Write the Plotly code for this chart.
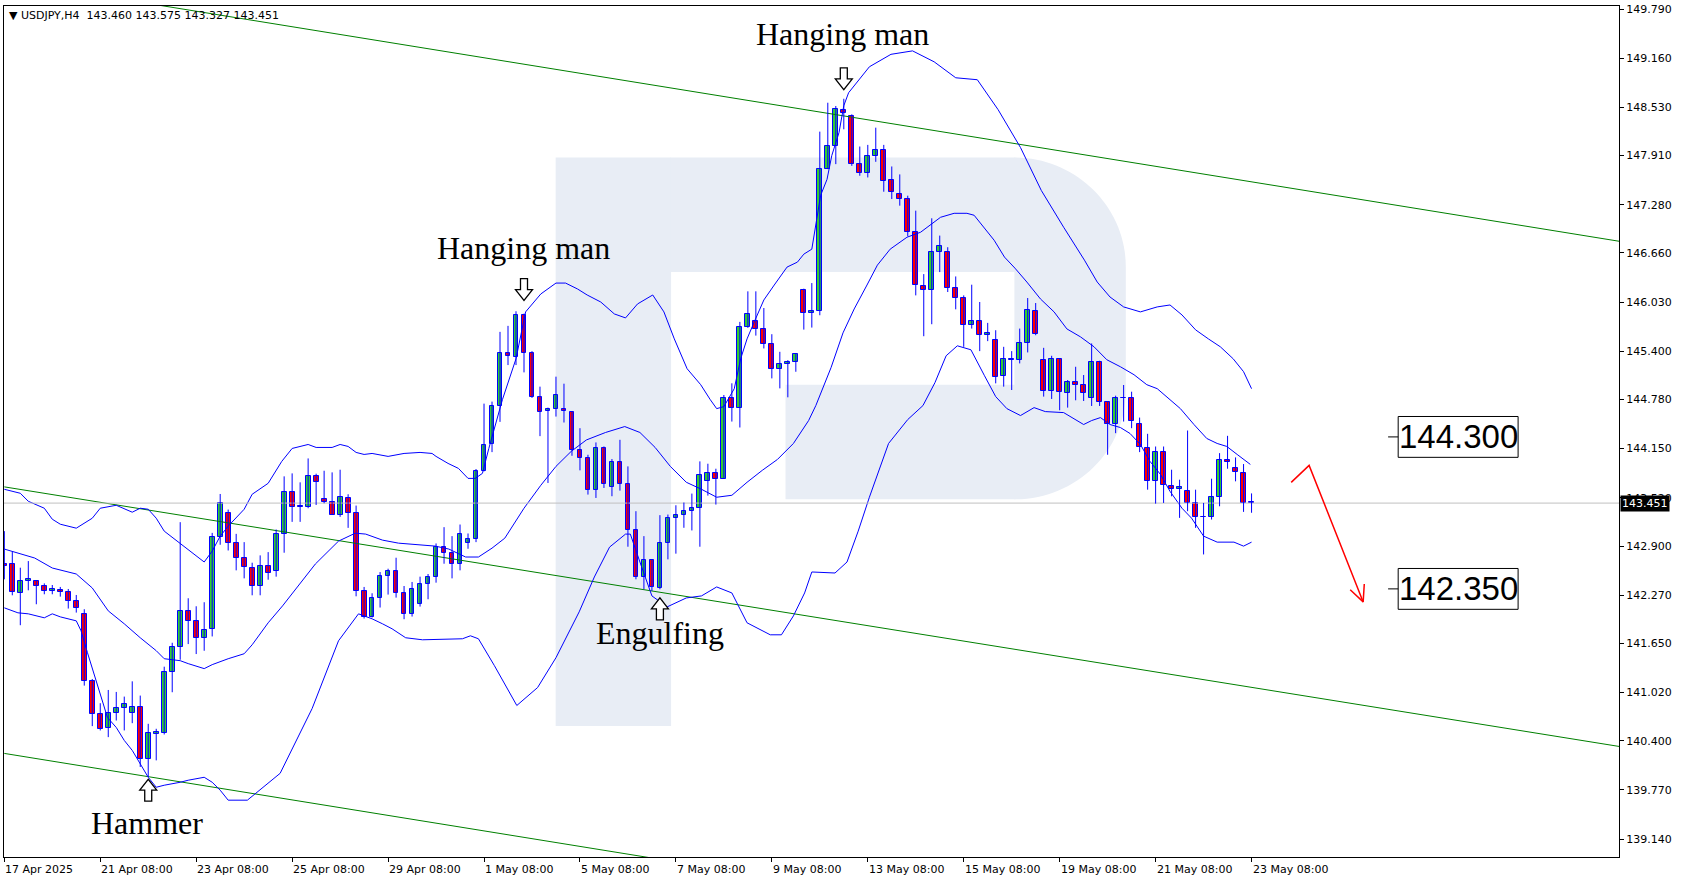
import plotly.graph_objects as go

# ---------------- data ----------------
OPEN = [142.664, 142.664, 142.302, 142.447, 142.456, 142.383, 142.319, 142.341, 142.306, 142.191,
        142.025, 141.173, 140.747, 140.559, 140.759, 140.823, 140.759, 140.836, 140.171, 140.491,
        140.499, 141.284, 141.603, 142.063, 141.936, 141.718, 141.833, 143.010, 143.329, 142.933,
        142.741, 142.613, 142.383, 142.639, 142.575, 143.048, 143.598, 143.406, 143.406, 143.802,
        143.508, 143.470, 143.304, 143.521, 143.329, 142.319, 141.991, 142.234, 142.511, 142.575,
        142.294, 142.025, 142.153, 142.409, 142.498, 142.890, 142.805, 142.664, 142.933, 142.984,
        143.866, 144.211, 144.697, 145.375, 145.328, 145.861, 145.371, 144.813, 144.634, 144.659,
        144.664, 144.621, 144.135, 144.033, 143.624, 144.156, 143.662, 143.982, 143.700, 143.112,
        142.503, 142.716, 142.358, 142.933, 143.266, 143.304, 143.347, 143.394, 143.730, 143.841,
        143.764, 144.800, 144.676, 145.708, 145.784, 145.682, 145.490, 145.170, 145.234, 145.260,
        146.180, 145.886, 145.912, 147.740, 148.034, 148.494, 148.418, 147.804, 147.689, 147.906,
        147.983, 147.600, 147.420, 147.357, 146.935, 146.232, 146.180, 146.679, 146.679, 146.206,
        146.078, 145.733, 145.784, 145.605, 145.541, 145.081, 145.285, 145.285, 145.503, 145.912,
        145.285, 144.889, 145.298, 144.868, 145.009, 144.966, 144.800, 145.260, 144.744, 144.463,
        144.800, 144.795, 144.463, 144.156, 143.730, 144.105, 143.670, 143.636, 143.611, 143.457,
        143.274, 143.270, 143.530, 144.007, 143.905, 143.841, 143.460]
HIGH = [143.091, 142.826, 142.622, 142.707, 142.464, 142.421, 142.400, 142.375, 142.349, 142.272,
        142.089, 141.194, 140.883, 141.053, 141.028, 140.968, 141.164, 140.981, 140.619, 140.555,
        141.352, 141.659, 143.206, 142.230, 142.127, 142.179, 143.069, 143.568, 143.368, 143.056,
        142.950, 142.686, 142.780, 142.822, 143.112, 143.794, 143.832, 143.717, 144.024, 143.828,
        143.866, 143.845, 143.879, 143.564, 143.419, 142.375, 142.294, 142.566, 142.609, 142.750,
        142.387, 142.439, 142.507, 142.541, 142.933, 143.142, 143.027, 143.176, 143.061, 143.888,
        144.727, 144.753, 145.648, 145.725, 145.912, 145.882, 145.401, 144.945, 144.676, 145.073,
        144.983, 144.621, 144.412, 144.071, 144.229, 144.178, 144.016, 144.263, 143.922, 143.347,
        143.027, 142.729, 143.296, 143.304, 143.423, 143.458, 143.573, 143.986, 143.956, 143.892,
        144.838, 144.988, 145.776, 146.168, 146.168, 145.954, 145.618, 145.392, 145.285, 145.371,
        146.202, 146.274, 148.217, 148.588, 148.546, 148.639, 148.439, 148.026, 148.047, 148.268,
        148.047, 147.770, 147.668, 147.395, 147.203, 146.389, 147.105, 146.883, 146.734, 146.359,
        146.116, 146.253, 146.031, 145.763, 145.669, 145.456, 145.401, 145.690, 146.082, 146.018,
        145.443, 145.341, 145.307, 145.030, 145.200, 145.094, 145.499, 145.277, 144.753, 144.829,
        144.966, 144.880, 144.548, 144.340, 144.177, 144.177, 143.879, 143.751, 144.382, 143.623,
        143.453, 143.764, 144.092, 144.314, 144.037, 143.952, 143.575]
LOW = [142.473, 142.268, 141.884, 142.332, 142.153, 142.281, 142.281, 142.251, 142.098, 142.046,
       141.109, 140.589, 140.534, 140.448, 140.661, 140.534, 140.627, 140.065, 139.937, 140.150,
       140.482, 141.024, 141.441, 141.642, 141.514, 141.556, 141.740, 142.916, 142.843, 142.588,
       142.485, 142.268, 142.268, 142.468, 142.507, 142.814, 143.210, 143.210, 143.385, 143.427,
       143.449, 143.304, 143.274, 143.133, 142.255, 141.970, 141.983, 142.111, 142.277, 142.238,
       141.961, 141.995, 142.123, 142.217, 142.430, 142.673, 142.485, 142.588, 142.865, 142.950,
       143.858, 144.105, 144.493, 145.222, 145.222, 145.128, 144.800, 144.310, 143.709, 144.561,
       144.485, 144.058, 143.871, 143.560, 143.517, 143.645, 143.539, 143.611, 142.891, 142.473,
       142.345, 142.324, 142.345, 142.729, 142.802, 143.134, 143.100, 142.891, 143.547, 143.432,
       143.764, 144.497, 144.421, 145.699, 145.600, 145.435, 145.051, 144.923, 144.808, 145.136,
       145.677, 145.703, 145.861, 147.736, 147.800, 148.247, 147.778, 147.651, 147.629, 147.830,
       147.446, 147.352, 147.267, 146.875, 146.116, 145.592, 145.746, 146.415, 146.159, 145.937,
       145.456, 145.690, 145.401, 145.529, 144.987, 144.945, 144.902, 145.243, 145.384, 145.605,
       144.817, 144.787, 144.642, 144.676, 144.770, 144.761, 144.697, 144.697, 144.071, 144.348,
       144.497, 144.412, 144.105, 143.623, 143.444, 143.453, 143.538, 143.261, 143.347, 143.133,
       142.792, 143.240, 143.410, 143.892, 143.730, 143.338, 143.327]
CLOSE = [142.650, 142.311, 142.447, 142.473, 142.387, 142.323, 142.345, 142.306, 142.196, 142.102,
         141.173, 140.747, 140.555, 140.759, 140.823, 140.875, 140.836, 140.171, 140.504, 140.516,
         141.284, 141.603, 142.063, 141.936, 141.718, 141.829, 143.010, 143.457, 142.933, 142.741,
         142.626, 142.383, 142.639, 142.549, 143.048, 143.598, 143.406, 143.402, 143.802, 143.726,
         143.470, 143.304, 143.534, 143.329, 142.319, 141.991, 142.234, 142.511, 142.575, 142.294,
         142.025, 142.345, 142.409, 142.498, 142.890, 142.805, 142.664, 143.048, 142.984, 143.866,
         144.199, 144.697, 145.379, 145.341, 145.861, 145.380, 144.813, 144.621, 144.664, 144.838,
         144.634, 144.135, 144.029, 143.624, 144.156, 143.700, 143.982, 143.700, 143.112, 142.503,
         142.716, 142.375, 142.933, 143.266, 143.304, 143.347, 143.394, 143.816, 143.841, 143.764,
         144.800, 144.676, 145.708, 145.882, 145.682, 145.490, 145.170, 145.234, 145.260, 145.362,
         145.886, 145.916, 147.740, 148.034, 148.511, 148.460, 147.804, 147.689, 147.906, 147.983,
         147.587, 147.437, 147.357, 146.935, 146.244, 146.180, 146.679, 146.756, 146.206, 146.078,
         145.733, 145.784, 145.605, 145.635, 145.072, 145.298, 145.298, 145.503, 145.925, 145.618,
         144.889, 145.298, 144.876, 145.009, 144.966, 144.868, 145.260, 144.753, 144.463, 144.795,
         144.795, 144.506, 144.165, 143.730, 144.105, 143.679, 143.636, 143.658, 143.453, 143.274,
         143.270, 143.530, 144.007, 143.977, 143.854, 143.457, 143.451]
BAR_INDEX = list(range(len(OPEN)))

X_TICK_INDEX = [0, 12, 24, 36, 48, 60, 72, 84, 96, 108, 120, 132, 144, 156]
X_TICK_LABELS = ["17 Apr 2025", "21 Apr 08:00", "23 Apr 08:00", "25 Apr 08:00", "29 Apr 08:00",
                 "1 May 08:00", "5 May 08:00", "7 May 08:00", "9 May 08:00", "13 May 08:00",
                 "15 May 08:00", "19 May 08:00", "21 May 08:00", "23 May 08:00"]
Y_TICKS = [149.790, 149.160, 148.530, 147.910, 147.280, 146.660, 146.030, 145.400, 144.780,
           144.150, 143.520, 142.900, 142.270, 141.650, 141.020, 140.400, 139.770, 139.140]

# Bollinger bands, sampled along the bar index
UPPER_X = [0, 2, 3, 5, 6, 7, 9, 10, 11, 12, 14, 16, 17, 18, 19, 20, 22, 24, 25, 26, 27, 28, 29, 30,
           31, 33, 34.7, 36, 38, 39, 41, 42, 43, 44, 45, 46, 48, 50, 52, 53.5, 54, 55.5, 56.8, 58,
           58.9, 59.8, 60.6, 61.4, 62.3, 64, 65.2, 67.1, 69, 70.2, 71.7, 72.9, 74.6, 76.3, 77.7,
           79.2, 81.1, 82.5, 83.8, 85.4, 87.1, 88.3, 89.1, 90, 91.3, 92.1, 92.9, 93.8, 95, 96.3,
           97.9, 99.2, 100, 101, 101.5, 102.1, 102.9, 103.5, 104.4, 105, 105.6, 108.2, 110.9,
           113.6, 116.3, 119, 121.7, 124.3, 127.1, 129.7, 132.5, 135.1, 136.7, 138.3, 140, 142.1,
           144.2, 145.8, 147.3, 149, 150.6, 152.1, 153.7, 155, 156]
UPPER_Y = [143.628, 143.577, 143.474, 143.385, 143.244, 143.180, 143.129, 143.193, 143.257, 143.385,
           143.423, 143.334, 143.385, 143.372, 143.257, 143.091, 142.937, 142.771, 142.695, 142.835,
           143.027, 143.155, 143.257, 143.372, 143.564, 143.705, 143.986, 144.152, 144.203, 144.165,
           144.165, 144.203, 144.178, 144.101, 144.075, 144.088, 144.050, 144.088, 144.101, 144.088,
           144.050, 143.960, 143.896, 143.768, 143.768, 143.832, 144.152, 144.433, 144.778, 145.303,
           145.904, 146.134, 146.274, 146.274, 146.198, 146.121, 146.031, 145.878, 145.827, 146.006,
           146.121, 145.904, 145.558, 145.175, 144.970, 144.778, 144.663, 144.689, 144.919, 145.303,
           145.558, 145.776, 146.057, 146.249, 146.479, 146.543, 146.645, 146.709, 147.016, 147.399,
           147.604, 147.911, 148.205, 148.550, 148.716, 149.049, 149.209, 149.253, 149.113, 148.908,
           148.883, 148.499, 148.013, 147.463, 146.990, 146.568, 146.287, 146.095, 145.968, 145.904,
           145.968, 145.993, 145.865, 145.674, 145.558, 145.456, 145.303, 145.137, 144.919]
MIDDLE_X = [0, 1.7, 3.8, 6, 9, 11, 13, 15, 17, 19, 20, 22, 23, 25, 26, 28, 30, 31, 33, 34.8, 36.8,
            38.9, 41.8, 43.9, 45.2, 47.3, 49.3, 52.3, 53.9, 55.6, 57.7, 59.3, 61, 62.6, 65, 67.1,
            69, 70.9, 72.8, 75.2, 77.6, 79.5, 81.4, 83.3, 85.3, 87.2, 89.1, 91, 92.9, 94.8, 96.7,
            98.7, 100.6, 101.5, 102.5, 103.4, 104.9, 106.3, 107.9, 109.2, 110.8, 112.9, 114.6,
            115.8, 117.1, 118.8, 120.4, 121.3, 122.5, 123.8, 125.1, 126.4, 127.9, 129.6, 131.3,
            132.9, 134.6, 136.3, 137.9, 139.6, 141.3, 142.9, 144.2, 145.4, 147.1, 148.8, 150.4,
            151.7, 152.9, 154.2, 155.85]
MIDDLE_Y = [142.861, 142.810, 142.746, 142.618, 142.541, 142.362, 142.068, 141.902, 141.723, 141.557,
            141.454, 141.429, 141.391, 141.327, 141.378, 141.454, 141.518, 141.633, 141.915, 142.132,
            142.401, 142.669, 142.963, 143.065, 143.053, 142.976, 142.937, 142.912, 142.899, 142.861,
            142.759, 142.759, 142.873, 143.001, 143.385, 143.679, 143.922, 144.114, 144.261, 144.357,
            144.433, 144.357, 144.165, 143.922, 143.718, 143.628, 143.526, 143.551, 143.718, 143.871,
            144.011, 144.216, 144.510, 144.702, 144.945, 145.188, 145.635, 145.942, 146.249, 146.504,
            146.709, 146.862, 146.926, 147.016, 147.118, 147.169, 147.169, 147.144, 146.990, 146.824,
            146.607, 146.466, 146.287, 146.070, 145.904, 145.686, 145.584, 145.456, 145.290, 145.200,
            145.098, 144.970, 144.919, 144.817, 144.663, 144.459, 144.280, 144.216, 144.178, 144.075,
            143.947]
LOWER_X = [0, 1.7, 3, 5, 6, 7, 9, 9.6, 10.4, 11.5, 12.1, 12.9, 14, 15, 16, 17, 18, 19, 20, 22, 23,
           25, 26, 27, 28, 30.4, 34.5, 38.5, 41.8, 44.3, 46, 47.3, 48.5, 50.2, 52.3, 57.3, 58.3,
           59.3, 61.3, 64.1, 66.7, 69, 71.9, 73.8, 75.7, 77.7, 78.3, 79.5, 81, 82.9, 85.3, 87.2,
           89.1, 91, 92.9, 95.8, 97.2, 98.7, 100.1, 101, 103.9, 105.4, 106.8, 108.2, 109.2, 110.6,
           113, 114.9, 116.4, 117.8, 119.2, 120.9, 122.6, 124, 125.4, 127.1, 128.8, 130.2, 132.5,
           133.8, 135, 136, 137.1, 138.3, 139.6, 140.8, 142.1, 143.3, 144.6, 145.8, 147.3, 148.5,
           150, 151.7, 153.8, 155, 156]
LOWER_Y = [142.107, 142.043, 142.030, 141.979, 142.030, 141.991, 141.940, 141.812, 141.531, 141.173,
           140.956, 140.700, 140.572, 140.406, 140.278, 140.112, 139.933, 139.805, 139.831, 139.869,
           139.895, 139.933, 139.869, 139.767, 139.639, 139.639, 139.984, 140.815, 141.684, 142.030,
           141.966, 141.902, 141.838, 141.723, 141.697, 141.710, 141.748, 141.710, 141.365, 140.854,
           141.084, 141.467, 142.055, 142.503, 142.886, 143.053, 143.053, 142.695, 142.260, 142.119,
           142.234, 142.260, 142.375, 142.298, 141.915, 141.761, 141.761, 142.004, 142.298, 142.567,
           142.554, 142.695, 143.091, 143.526, 143.820, 144.216, 144.523, 144.702, 144.996, 145.341,
           145.469, 145.418, 145.085, 144.817, 144.663, 144.574, 144.676, 144.625, 144.612, 144.535,
           144.459, 144.510, 144.548, 144.459, 144.420, 144.344, 144.203, 143.986, 143.820, 143.602,
           143.385, 143.257, 143.027, 142.950, 142.950, 142.899, 142.950]

# trend channel (green), endpoints
CHANNEL_X = [0, 202]
CHANNEL_UPPER = [150.160, 146.810]
CHANNEL_MIDDLE = [143.659, 140.328]
CHANNEL_LOWER = [140.239, 136.892]

LEVELS = [144.300, 142.350]
FORECAST_X = [160.96, 163.2, 169.96]
FORECAST_Y = [143.717, 143.935, 142.183]
FORECAST_HEAD_X = [170.1, 169.96, 168.34]
FORECAST_HEAD_Y = [142.413, 142.183, 142.339]

# candlestick patterns: label, text position (bar, price), arrow direction, arrow position (bar, price)
PATTERNS = [
    ("Hanging man", 104.8, 149.470, "down", 105, 148.895),
    ("Hanging man", 64.97, 146.722, "down", 65, 146.191),
    ("Engulfing", 81.96, 141.785, "up", 82, 142.094),
    ("Hammer", 17.85, 139.345, "up", 18, 139.767),
]

X_RANGE = [-0.04, 201.96]
Y_RANGE = [138.910, 149.829]

# ---------------- figure ----------------
W, H = 1683, 882
ML, MR, MT, MB = 3, 64, 3, 25
PW, PH = W - ML - MR, H - MT - MB

BLUE = "#0000FF"
UP = "#32CD32"
DOWN = "#FF0000"
WM = "#E8EDF5"


def px_to_paper(px, py):
    return (px - ML) / PW, 1 - (py - MT) / PH


def data_to_paper(x, y):
    return ((x - X_RANGE[0]) / (X_RANGE[1] - X_RANGE[0]),
            (y - Y_RANGE[0]) / (Y_RANGE[1] - Y_RANGE[0]))


fig = go.Figure()

# green channel
for ys in (CHANNEL_UPPER, CHANNEL_MIDDLE, CHANNEL_LOWER):
    fig.add_trace(go.Scatter(x=CHANNEL_X, y=ys, mode="lines",
                             line=dict(color="#008000", width=1), hoverinfo="skip"))

# bollinger bands
for xs, ys in ((UPPER_X, UPPER_Y), (MIDDLE_X, MIDDLE_Y), (LOWER_X, LOWER_Y)):
    fig.add_trace(go.Scatter(x=xs, y=ys, mode="lines",
                             line=dict(color=BLUE, width=1), hoverinfo="skip"))

# current price line
fig.add_trace(go.Scatter(x=X_RANGE, y=[CLOSE[-1], CLOSE[-1]], mode="lines",
                         line=dict(color="#C0C0C0", width=1), hoverinfo="skip"))

# wicks
wx, wy = [], []
for i, lo, hi in zip(BAR_INDEX, LOW, HIGH):
    wx += [i, i, None]
    wy += [lo, hi, None]
fig.add_trace(go.Scatter(x=wx, y=wy, mode="lines", line=dict(color=BLUE, width=1),
                         hoverinfo="skip"))

# bodies
base = [min(o, c) for o, c in zip(OPEN, CLOSE)]
height = [max(abs(c - o), 0.006) for o, c in zip(OPEN, CLOSE)]
colors = [UP if c > o else DOWN for o, c in zip(OPEN, CLOSE)]
fig.add_trace(go.Bar(x=BAR_INDEX, y=height, base=base, width=0.6,
                     marker=dict(color=colors, line=dict(color=BLUE, width=1)),
                     hoverinfo="skip"))

# forecast arrow
fig.add_trace(go.Scatter(x=FORECAST_X, y=FORECAST_Y, mode="lines",
                         line=dict(color="#FF0000", width=1.5), hoverinfo="skip"))
fig.add_trace(go.Scatter(x=FORECAST_HEAD_X, y=FORECAST_HEAD_Y, mode="lines",
                         line=dict(color="#FF0000", width=1.5), hoverinfo="skip"))

shapes = []


# watermark "R"
def rect_px(x0, y0, x1, y1):
    a = px_to_paper(x0, y0)
    b = px_to_paper(x1, y1)
    return dict(type="rect", xref="paper", yref="paper", x0=a[0], y0=b[1], x1=b[0], y1=a[1],
                fillcolor=WM, line=dict(width=0), layer="below")


def path_px(points_cmds):
    s = ""
    for cmd, pts in points_cmds:
        s += cmd
        s += " ".join("%.5f,%.5f" % px_to_paper(*p) for p in pts) + " "
    return dict(type="path", xref="paper", yref="paper", path=s + "Z",
                fillcolor=WM, line=dict(width=0), layer="below")


shapes.append(rect_px(555, 155, 670.5, 725.5))
shapes.append(rect_px(670, 155, 1015, 270))
shapes.append(rect_px(785, 383, 1015, 498))
shapes.append(path_px([
    ("M", [(1014, 155)]),
    ("C", [(1075, 155), (1125.5, 204), (1125.5, 265)]),
    ("L", [(1125.5, 389)]),
    ("C", [(1125.5, 450), (1075, 498), (1014, 498)]),
]))
shapes.append(path_px([
    ("M", [(785, 610.7)]),
    ("L", [(1014.5, 610.7), (1070, 725.5), (785, 725.5)]),
]))

# level boxes
half = 20.5 / (PH / (Y_RANGE[1] - Y_RANGE[0]))
for lv in LEVELS:
    shapes.append(dict(type="rect", xref="x", yref="y", x0=174.34, x1=189.34,
                       y0=lv - half, y1=lv + half, fillcolor="white",
                       line=dict(color="black", width=1)))
    shapes.append(dict(type="line", xref="x", yref="y", x0=173.08, x1=174.34,
                       y0=lv, y1=lv, line=dict(color="black", width=1)))

# hollow pattern arrows (outline drawn in pixels around the anchor)
ARROW_OUTLINE = [(-3.5, -11), (3.5, -11), (3.5, 0), (8.5, 0), (0, 11), (-8.5, 0), (-3.5, 0)]
for label, tx, ty, direction, ax, ay in PATTERNS:
    cx, cy = data_to_paper(ax, ay)
    sgn = 1 if direction == "down" else -1
    pts = ["%.5f,%.5f" % (cx + dx / PW, cy - sgn * dy / PH) for dx, dy in ARROW_OUTLINE]
    shapes.append(dict(type="path", xref="paper", yref="paper",
                       path="M" + " L".join(pts) + " Z", fillcolor="white",
                       line=dict(color="black", width=1.3)))

annotations = []
for lv in LEVELS:
    annotations.append(dict(x=181.84, y=lv, xref="x", yref="y", text="%.3f" % lv,
                            showarrow=False, xanchor="center", yanchor="middle",
                            font=dict(family="Liberation Sans", size=33, color="black")))

for label, tx, ty, direction, ax, ay in PATTERNS:
    annotations.append(dict(x=tx, y=ty, xref="x", yref="y", text=label, showarrow=False,
                            xanchor="center", yanchor="middle",
                            font=dict(family="Liberation Serif", size=32, color="black")))

# x labels (left aligned at ticks)
for xi, lab in zip(X_TICK_INDEX, X_TICK_LABELS):
    annotations.append(dict(x=xi, y=0, xref="x", yref="paper", text=lab, showarrow=False,
                            xanchor="left", yanchor="middle", yshift=-12, xshift=-1,
                            font=dict(family="DejaVu Sans", size=11, color="black")))

# header
header = "\u25bc USDJPY,H4\u00a0\u00a0%.3f %.3f %.3f %.3f" % (OPEN[-1], HIGH[-1], LOW[-1], CLOSE[-1])
annotations.append(dict(x=(6 - ML) / PW, y=1, xref="paper", yref="paper", text=header,
                        showarrow=False, xanchor="left", yanchor="middle", yshift=-9.7,
                        font=dict(family="DejaVu Sans", size=11, color="black")))

# current price tag
annotations.append(dict(x=1, y=CLOSE[-1], xref="paper", yref="y", text="%.3f" % CLOSE[-1],
                        showarrow=False, xanchor="left", yanchor="middle", xshift=1,
                        bgcolor="black", borderpad=1,
                        font=dict(family="DejaVu Sans", size=11, color="white")))

fig.update_layout(
    width=W, height=H,
    margin=dict(l=ML, r=MR, t=MT, b=MB),
    paper_bgcolor="white", plot_bgcolor="white",
    showlegend=False,
    shapes=shapes, annotations=annotations,
    bargap=0,
)
fig.update_xaxes(range=X_RANGE, showgrid=False, zeroline=False, showline=True, mirror=True,
                 linecolor="black", linewidth=1, ticks="outside", ticklen=4, tickcolor="black",
                 tickvals=X_TICK_INDEX, showticklabels=False, fixedrange=True)
fig.update_yaxes(range=Y_RANGE, side="right", showgrid=False, zeroline=False, showline=True,
                 mirror=True, linecolor="black", linewidth=1, ticks="outside", ticklen=4,
                 tickcolor="black", tickvals=Y_TICKS, ticktext=["%.3f" % v for v in Y_TICKS],
                 ticklabeloverflow="allow",
                 tickfont=dict(family="DejaVu Sans", size=11, color="black"), fixedrange=True)

fig.write_html("out.html", config={"displayModeBar": False},
               post_script="document.body.style.margin='0';document.body.style.overflow='hidden';")
